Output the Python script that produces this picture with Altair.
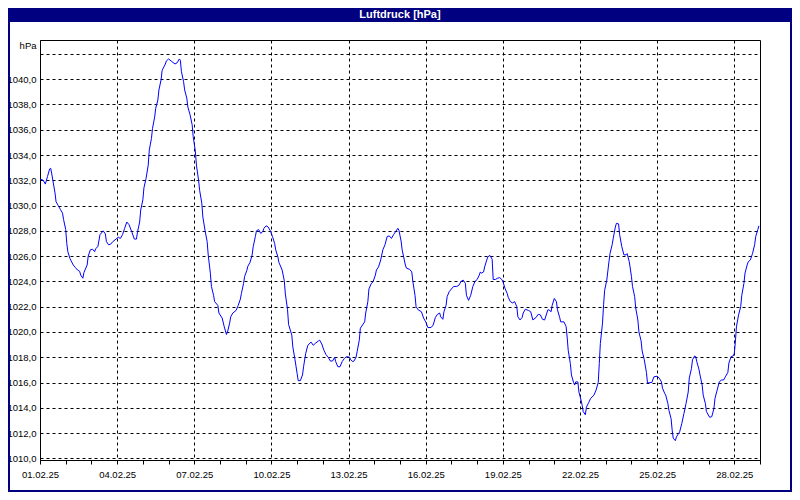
import altair as alt
import pandas as pd

# hours since 01.02.25 00:00
hours = [
    0, 3, 5, 7, 9, 10, 11, 12, 14, 15,
    17, 19, 21, 22, 24, 25, 26, 28, 31, 33,
    35, 37, 38, 40, 41, 44, 45, 47, 49, 51,
    52, 54, 56, 59, 61, 62, 64, 66, 68, 71,
    73, 75, 77, 79, 81, 83, 86, 88, 90, 91,
    93, 94, 96, 97, 99, 101, 102, 104, 105, 107,
    108, 110, 111, 113, 114, 117, 118, 120, 123, 126,
    128, 130, 131, 132, 134, 135, 137, 138, 140, 142,
    143, 145, 146, 148, 149, 151, 152, 154, 156, 157,
    159, 160, 162, 163, 166, 167, 170, 172, 174, 175,
    177, 178, 180, 183, 185, 187, 188, 190, 191, 193,
    194, 196, 198, 199, 201, 202, 204, 206, 208, 209,
    211, 213, 215, 217, 219, 220, 222, 223, 226, 228,
    229, 231, 232, 235, 236, 238, 240, 241, 243, 245,
    246, 248, 250, 253, 255, 257, 260, 261, 263, 265,
    267, 269, 271, 273, 275, 276, 278, 280, 282, 284,
    286, 289, 290, 292, 293, 295, 296, 298, 299, 301,
    303, 304, 306, 307, 309, 311, 313, 314, 316, 318,
    320, 322, 324, 326, 328, 330, 332, 334, 335, 337,
    338, 340, 341, 342, 345, 347, 348, 350, 351, 353,
    356, 358, 360, 362, 365, 367, 369, 371, 373, 374,
    376, 377, 379, 380, 382, 384, 386, 389, 391, 393,
    395, 397, 398, 400, 402, 404, 406, 408, 410, 411,
    412, 414, 415, 417, 418, 420, 422, 423, 425, 427,
    429, 431, 432, 434, 436, 437, 439, 441, 443, 445,
    446, 448, 450, 451, 453, 456, 458, 460, 463, 465,
    467, 469, 471, 474, 475, 477, 478, 480, 482, 483,
    485, 486, 489, 491, 492, 493, 495, 496, 498, 499,
    500, 502, 503, 505, 506, 507, 509, 510, 512, 514,
    517, 519, 521, 522, 523, 525, 526, 527, 529, 531,
    532, 534, 535, 537, 538, 540, 541, 543, 545, 547,
    548, 550, 552, 553, 555, 556, 558, 559, 561, 562,
    564, 566, 567, 569, 571, 573, 576, 578, 580, 581,
    583, 584, 586, 587, 589, 590, 591, 593, 594, 597,
    599, 601, 603, 605, 606, 608, 609, 611, 612, 613,
    615, 616, 618, 619, 621, 622, 625, 627, 629, 630,
    632, 634, 636, 638, 640, 642, 643, 645, 647, 648,
    649, 650, 652, 654, 655, 657, 658, 660, 661, 663,
    665, 667, 668, 670, 671,
]

hpa = [
    1032.1, 1032.0, 1031.7, 1032.3, 1032.9, 1032.95, 1032.5, 1032.0, 1031.0, 1030.3,
    1030.0, 1029.7, 1029.4, 1028.9, 1028.1, 1027.0, 1026.35, 1025.8, 1025.3, 1025.1,
    1024.9, 1024.8, 1024.5, 1024.25, 1024.7, 1025.3, 1026.0, 1026.5, 1026.55, 1026.35,
    1026.6, 1026.75, 1027.7, 1028.0, 1027.75, 1027.15, 1026.9, 1026.95, 1027.15, 1027.35,
    1027.5, 1027.4, 1027.7, 1028.2, 1028.7, 1028.5, 1027.85, 1027.35, 1027.35, 1027.9,
    1028.7, 1029.65, 1030.45, 1031.4, 1032.15, 1033.2, 1034.4, 1035.3, 1036.1, 1037.0,
    1037.7, 1038.35, 1039.15, 1039.95, 1040.7, 1041.2, 1041.45, 1041.6, 1041.4, 1041.2,
    1041.3, 1041.6, 1041.5, 1040.6, 1039.8, 1039.15, 1038.5, 1037.8, 1037.2, 1036.4,
    1035.45, 1034.3, 1033.2, 1032.0, 1031.2, 1030.2, 1029.1, 1028.05, 1027.15, 1026.1,
    1024.65, 1023.6, 1022.9, 1022.4, 1022.1, 1021.5, 1021.1, 1020.4, 1019.8, 1020.0,
    1020.7, 1021.2, 1021.5, 1021.7, 1022.1, 1022.6, 1023.05, 1023.85, 1024.4, 1024.85,
    1025.2, 1025.5, 1026.1, 1026.75, 1027.55, 1028.0, 1028.1, 1027.8, 1027.95, 1028.2,
    1028.4, 1028.3, 1028.0, 1027.55, 1027.0, 1026.5, 1025.95, 1025.5, 1024.9, 1024.05,
    1023.0, 1021.8, 1020.6, 1019.75, 1018.8, 1017.8, 1016.7, 1016.15, 1016.15, 1016.6,
    1017.25, 1018.3, 1018.95, 1019.2, 1018.95, 1019.1, 1019.3, 1019.35, 1019.05, 1018.55,
    1018.2, 1018.0, 1017.7, 1017.7, 1018.0, 1017.65, 1017.25, 1017.25, 1017.65, 1017.9,
    1018.05, 1018.0, 1017.8, 1017.65, 1017.7, 1018.0, 1018.45, 1019.35, 1020.3, 1020.55,
    1020.8, 1021.5, 1022.4, 1023.4, 1023.8, 1024.0, 1024.5, 1024.9, 1025.15, 1025.7,
    1026.5, 1026.9, 1027.55, 1027.6, 1027.4, 1027.7, 1027.95, 1028.2, 1028.05, 1027.2,
    1026.5, 1025.7, 1025.3, 1025.05, 1024.95, 1024.75, 1024.0, 1022.9, 1022.0, 1021.75,
    1021.6, 1021.1, 1020.8, 1020.35, 1020.35, 1020.55, 1021.15, 1021.4, 1021.5, 1021.2,
    1021.0, 1021.6, 1022.1, 1022.8, 1023.2, 1023.4, 1023.6, 1023.6, 1023.7, 1024.0,
    1024.1, 1023.85, 1022.9, 1022.5, 1022.9, 1023.6, 1024.0, 1024.15, 1024.5, 1024.75,
    1024.65, 1024.75, 1025.15, 1025.7, 1025.95, 1026.05, 1025.75, 1024.15, 1024.15, 1024.25,
    1024.3, 1024.15, 1024.0, 1023.45, 1023.05, 1022.75, 1022.4, 1022.3, 1022.4, 1022.0,
    1021.2, 1020.95, 1021.15, 1021.5, 1021.8, 1021.7, 1021.6, 1020.95, 1021.15, 1021.4,
    1021.35, 1021.0, 1020.95, 1021.75, 1021.75, 1021.6, 1022.1, 1022.65, 1022.4, 1021.75,
    1021.15, 1020.8, 1020.8, 1020.45, 1019.6, 1018.55, 1017.5, 1016.6, 1016.0, 1015.8,
    1016.05, 1016.05, 1015.25, 1014.6, 1014.2, 1013.7, 1013.45, 1014.05, 1014.4, 1014.75,
    1015.0, 1015.4, 1016.0, 1017.5, 1019.1, 1020.7, 1022.15, 1023.3, 1024.1, 1025.55,
    1026.2, 1026.9, 1027.4, 1028.3, 1028.6, 1028.55, 1027.7, 1026.75, 1026.1, 1026.1,
    1026.2, 1025.55, 1024.4, 1023.6, 1022.8, 1021.9, 1020.95, 1020.0, 1019.3, 1018.5,
    1017.8, 1016.8, 1015.95, 1016.0, 1016.0, 1016.45, 1016.5, 1016.35, 1016.05, 1015.55,
    1015.15, 1015.0, 1014.35, 1013.8, 1013.15, 1012.25, 1011.6, 1011.4, 1011.7, 1012.1,
    1012.75, 1013.55, 1014.35, 1015.25, 1016.35, 1017.1, 1017.8, 1018.1, 1018.05, 1017.65,
    1017.05, 1016.6, 1015.8, 1015.0, 1014.35, 1013.7, 1013.25, 1013.3, 1013.95, 1014.75,
    1015.4, 1016.05, 1016.2, 1016.2, 1016.5, 1016.8, 1017.55, 1018.05, 1018.1, 1018.3,
    1019.2, 1020.4, 1021.35, 1022.0, 1022.9, 1023.85, 1024.65, 1025.3, 1025.55, 1025.7,
    1026.2, 1026.9, 1027.55, 1028.1, 1028.4,
]

assert len(hours) == len(hpa)

day_ticks = list(range(0, 673, 24))      # one tick per day, 01.02. .. 01.03.
y_ticks = list(range(1010, 1043, 2))     # 1010 .. 1042
title_text = "Luftdruck [hPa]"
unit_text = "hPa"

df = pd.DataFrame({"stunde": hours, "hpa": hpa})

W, H = 720, 420
PL, PT, PR, PB = 32, 32, 32, 32
FONT = "Liberation Sans"
NAVY = "#000080"
FS = 9.5

x_label_expr = (
    "datum.value % 72 == 0 && datum.value < 672 ? "
    "((floor(datum.value / 24) + 1 < 10 ? '0' : '') + (floor(datum.value / 24) + 1) + '.02.25') : ''"
)
y_label_expr = "datum.value > 1041 ? '' : replace(format(datum.value, '.1f'), '.', ',')"

x_axis = alt.Axis(
    values=day_ticks,
    labelExpr=x_label_expr,
    grid=True,
    gridColor="black",
    gridDash=[3, 3],
    gridWidth=1,
    gridOpacity={"condition": {"test": "datum.value % 72 == 0 && datum.value > 0 && datum.value < 672", "value": 1}, "value": 0},
    tickSize=4,
    tickColor="black",
    domainColor="black",
    labelPadding=5,
    labelFlush=False,
    labelOverlap=False,
    labelFont=FONT,
    labelFontSize=FS,
    labelColor="black",
    title=None,
)

y_axis = alt.Axis(
    values=y_ticks,
    labelExpr=y_label_expr,
    grid=True,
    gridColor="black",
    gridDash=[3, 3],
    gridWidth=1,
    tickSize=0,
    domainColor="black",
    labelPadding=4,
    labelFont=FONT,
    labelFontSize=FS,
    labelColor="black",
    labelOverlap=False,
    title=unit_text,
    titleAngle=0,
    titleAlign="right",
    titleBaseline="middle",
    titleX=-4,
    titleY=5,
    titleFont=FONT,
    titleFontSize=FS,
    titleFontWeight="normal",
    titleColor="black",
)

line = alt.Chart(df).mark_line(color="#0000ff", strokeWidth=1).encode(
    x=alt.X("stunde:Q", scale=alt.Scale(domain=[0, 672], nice=False, zero=False), axis=x_axis),
    y=alt.Y("hpa:Q", scale=alt.Scale(domain=[1009.87, 1043.1], nice=False, zero=False), axis=y_axis),
)

one = alt.Data(values=[{}])

bar = alt.Chart(one).mark_rect(color=NAVY).encode(
    x=alt.value(-PL), x2=alt.value(W + PR), y=alt.value(-PT), y2=alt.value(-PT + 14)
)

frame = alt.Chart(one).mark_rect(fillOpacity=0, stroke=NAVY, strokeWidth=2).encode(
    x=alt.value(-PL + 1), x2=alt.value(W + PR - 1), y=alt.value(-PT + 1), y2=alt.value(H + PB - 1)
)

title = alt.Chart(one).mark_text(
    text=title_text, color="white", font=FONT, fontSize=11, fontWeight="bold", baseline="middle", align="center"
).encode(x=alt.value(W / 2), y=alt.value(-PT + 7))

chart = alt.layer(line, bar, frame, title).properties(
    width=W,
    height=H,
    autosize=alt.AutoSizeParams(type="none"),
    padding={"left": PL, "top": PT, "right": PR, "bottom": PB},
    background="white",
).configure_view(stroke="black", strokeWidth=1)

chart.save("out.html", embed_options={"renderer": "svg", "actions": False})
